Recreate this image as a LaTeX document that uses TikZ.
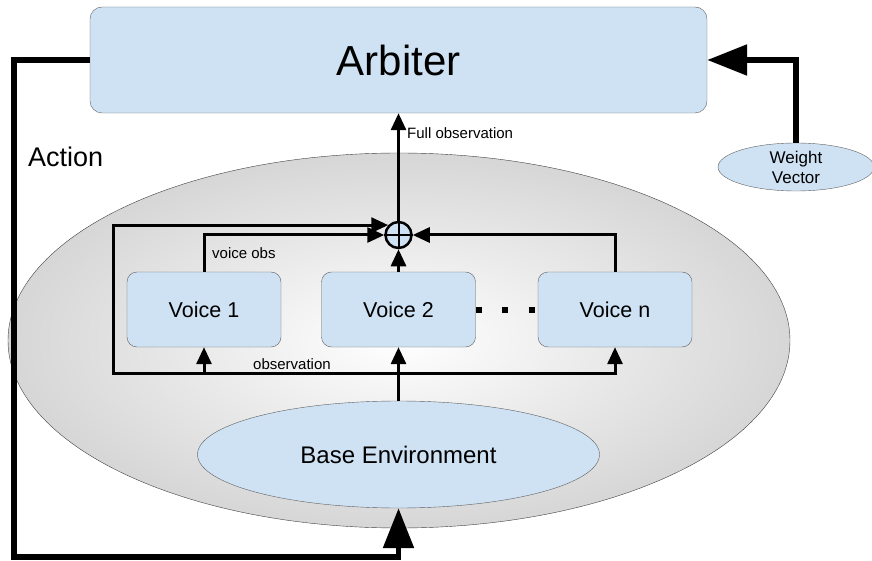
\documentclass[tikz,border=0pt]{standalone}
\usepackage{fontspec}
\setmainfont{Liberation Sans}
\usetikzlibrary{positioning, arrows.meta, shapes.geometric}
\definecolor{boxblue}{HTML}{CFE2F3}
\definecolor{edgegray}{HTML}{5F5F5F}
\pgfdeclareradialshading{envshade}{\pgfpoint{0bp}{0bp}}{color(0bp)=(white); color(50bp)=(black!32)}

\begin{document}
\begin{tikzpicture}[x=1pt, y=-1pt, on grid,
    voice/.style={draw=edgegray, fill=boxblue, rounded corners=10pt, minimum width=154pt, minimum height=75pt, font=\fontsize{21.5}{25}\selectfont},
    blob/.style={ellipse, draw=edgegray, fill=boxblue, inner sep=0pt},
    link/.style={line width=3pt, -{Triangle[length=17pt,width=15pt]}},
    heavy/.style={line width=5.5pt, -{Triangle[length=40pt,width=30pt]}},
    lbl/.style={font=\fontsize{15}{18}\selectfont, inner sep=0pt, anchor=west}]
   \useasboundingbox (0,0) rectangle (872,561);

   % The environment cloud
   \node[ellipse, draw=black!75, shading=envshade, minimum width=782pt, minimum height=375pt, inner sep=0pt] (world) at (399,340.5) {};

   % Arbiter and the summing point
   \node[draw=edgegray, fill=boxblue, rounded corners=12pt, minimum width=617pt, minimum height=106pt, font=\fontsize{42}{50}\selectfont] (arb) at (398.5,60) {Arbiter};
   \node[circle, draw, line width=2.5pt, fill=boxblue, minimum size=26pt, inner sep=0pt] (sum) [below=175pt of arb] {};
   \draw[line width=2pt] (sum.north) -- (sum.south) (sum.west) -- (sum.east);

   % Voices
   \node[voice] (v2) [below=74.5pt of sum] {Voice 2};
   \node[voice] (v1) [left=194.5pt of v2] {Voice 1};
   \node[voice] (vn) [right=216.5pt of v2] {Voice n};
   \draw[line width=6pt, dash pattern=on 6pt off 20.5pt] (v2.east) -- (vn.west);

   % Base environment and weights
   \node[blob, minimum width=402pt, minimum height=107pt, font=\fontsize{24}{28}\selectfont] (base) [below=145pt of v2] {Base Environment};
   \node[blob, minimum width=156pt, minimum height=48pt, align=center, font=\fontsize{17}{20}\selectfont] (wv) at (796,167) {Weight\\Vector};

   \coordinate (obs) at (398.5,373);
   \coordinate (bus) at (113,373);
   \coordinate (fb) at (14,557);

   % Observations
   \draw[link] (base.north) -- (v2.south);
   \draw[link] (bus) -| (v1.south);
   \draw[link] (obs) -| (vn.south);
   \draw[link] (obs) -- (bus) |- (sum.136);
   \draw[link] (v1.north) |- (sum.west);
   \draw[link] (v2.north) -- (sum.south);
   \draw[link] (vn.north) |- (sum.east);
   \draw[link] (sum.north) -- (arb.south);

   % Action and weight vector
   \draw[heavy] (arb.west) -| (fb) -| (base.south);
   \draw[heavy] (wv.north) |- (arb.east);

   % Labels
   \node[lbl] (fulllbl) at (407,133) {Full observation};
   \node[lbl] (voicelbl) at (212,253) {voice obs};
   \node[lbl] (obslbl) at (253,364) {observation};
   \node[lbl, font=\fontsize{27}{32}\selectfont] (actlbl) at (28,157) {Action};
\end{tikzpicture}
\end{document}
